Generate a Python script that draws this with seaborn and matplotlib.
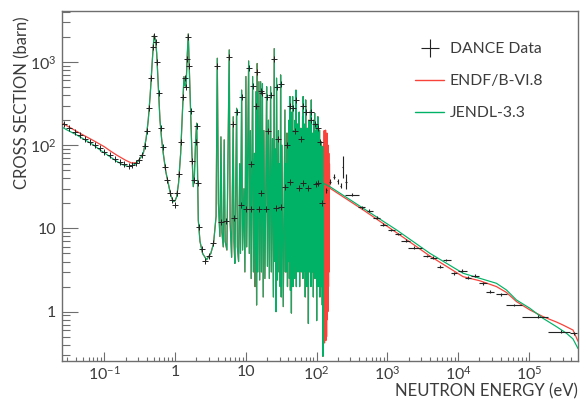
import matplotlib
matplotlib.use("Agg")
import matplotlib.pyplot as plt
from matplotlib.lines import Line2D
from matplotlib.ticker import FixedLocator, FixedFormatter, LogLocator, NullFormatter
import numpy as np
import pandas as pd
import seaborn as sns

# ---------------- data ----------------
# ENDF/B-VI.8 : thermal part
endf_low_E = [0.025, 0.03, 0.04, 0.05, 0.07, 0.1, 0.12, 0.15, 0.2, 0.244, 0.29]
endf_low_sig = [186, 170, 148, 133, 114, 96, 86, 76, 66, 61, 62]
# JENDL-3.3 : thermal part
jendl_low_E = [0.025, 0.03, 0.0407, 0.05, 0.07, 0.09, 0.12, 0.15, 0.18, 0.218, 0.25, 0.287]
jendl_low_sig = [166, 152, 133, 120, 101, 86, 73, 64, 58.5, 55.5, 56.5, 61]

# resolved resonance region (both evaluations practically overlap)
res_E = [0.33, 0.356, 0.39, 0.418, 0.445, 0.468, 0.49, 0.508, 0.53, 0.55, 0.58, 0.612,
         0.645, 0.681, 0.74, 0.80, 0.87, 0.944, 1.0, 1.053, 1.12, 1.2, 1.27, 1.336, 1.38,
         1.43, 1.48, 1.536, 1.6, 1.66, 1.73, 1.81, 1.88, 1.95, 2.02, 2.07, 2.13, 2.25,
         2.45, 2.79, 3.2, 3.5, 3.8,
         3.95, 4.1, 4.3, 4.45, 4.6, 4.8, 4.95, 5.1, 5.4, 5.83, 6.0, 6.3, 6.64, 6.8, 7.0,
         7.41, 7.6, 7.9, 8.2, 8.4, 8.73, 9.0, 9.4, 9.7, 10.03, 10.3, 10.96, 11.2, 11.6,
         11.9, 12.48, 12.8, 13.22, 13.5, 13.89, 14.2, 14.49, 14.8, 15.32, 15.7, 16.19,
         16.6, 17.15, 17.6, 18.02, 18.6, 19.2, 19.67, 20.2, 20.85, 21.5, 22.4, 22.9,
         23.8, 24.5, 25.2, 25.7, 26.2, 26.7, 27.2, 28.0, 28.9, 29.5, 30.2, 30.6, 31.0,
         31.7, 32.4, 33.8, 35.7, 36.2, 36.6, 37.2, 38.2, 38.8, 39.4, 40.0, 40.7, 41.3,
         42.0, 42.7, 43.4, 44.1, 44.8, 45.3, 45.8, 46.4, 47.0, 47.6, 48.3, 49.0, 49.7,
         50.4, 51.1, 51.8, 52.5, 53.2, 54.0, 54.6, 55.2, 56.0, 56.8, 57.6, 58.4, 59.2,
         60.0, 60.8, 61.7, 62.5, 63.4, 64.0, 64.7, 65.6, 66.6, 67.4, 68.3, 69.2, 70.1,
         70.9, 71.8, 72.8, 73.8, 74.7, 75.7, 76.6, 77.8, 78.8, 79.9, 81.0, 82.1, 83.2,
         84.3, 85.4, 86.5, 87.7, 88.9, 90.1, 91.3, 92.5, 93.8, 95.0, 96.3, 97.6, 98.9,
         100.2, 101.6, 103.0, 104.3, 105.7, 107.1, 108.5, 110.0, 111.5, 112.9, 114.4,
         116.0, 117.5, 119.0, 120.5, 122.0, 123.0]
res_sig = [72, 80, 120, 201, 400, 804, 1500, 2118, 1800, 1277, 500, 201,
           120, 80, 48, 35, 25, 21, 21.5, 24, 35, 80, 250, 668, 520,
           506, 1100, 2177, 700, 266, 80, 31.8, 45, 110, 184, 60, 12.6, 7,
           5, 4.2, 5.0, 6.6, 14,
           1110, 20, 8, 126, 9, 6, 116, 7, 5.5, 1400, 12, 4.5, 220, 7, 3.8,
           278, 6, 4, 60, 5, 460, 5.5, 30, 3, 670, 6, 1030, 5, 150,
           2.5, 670, 3, 80, 2, 440, 1.2, 960, 3, 580, 2.4, 580,
           3, 550, 1.5, 150, 2.5, 40, 505, 3.5, 200, 2.5, 505, 3,
           120, 1.5, 1450, 4, 90, 1.0, 640, 2.4, 150, 3, 60, 2.0, 700,
           1.5, 100, 1.15, 265, 3, 60, 3, 140, 2, 90, 4, 200, 2.5,
           385, 1.8, 110, 0.96, 250, 3, 385, 2, 150, 4, 90, 2.5, 200,
           3.5, 460, 2, 120, 5, 180, 3, 70, 6, 250, 2, 100, 4,
           160, 3, 80, 7, 220, 2.5, 385, 3, 120, 5, 180, 1.5, 350,
           4, 90, 2, 160, 5, 120, 0.72, 200, 3, 70, 6, 260, 2,
           350, 4, 140, 3, 110, 1.5, 200, 5, 243, 2.5, 100, 4, 150,
           0.78, 180, 3, 220, 2, 120, 5, 152, 1.5, 90, 3,
           110, 2, 80, 1.2, 96, 0.29]

# ENDF resolved region extends further than JENDL
endf_ext_E = [125, 126.5, 128, 129.5, 131, 132.5, 134, 135.5, 137, 138.5, 140, 141.5,
              143, 144.5, 146, 147.5, 149, 150.5, 152, 153]
endf_ext_sig = [100, 0.45, 150, 0.42, 120, 0.6, 152, 0.45, 110, 0.5, 140, 0.8,
                90, 1.0, 100, 2, 80, 3, 60, 33]

# smooth (unresolved) region
endf_tail_E = [154, 455, 1349, 3981, 11770, 20230, 34830, 48260, 66800, 103000, 158800,
               245400, 304000, 421000, 495000]
endf_tail_sig = [30.5, 16.7, 8.9, 4.67, 2.63, 2.35, 2.0, 1.7, 1.32, 1.05, 0.87,
                 0.75, 0.69, 0.60, 0.44]
jendl_tail_E = [124, 154, 455, 1349, 3981, 11770, 20230, 34830, 48260, 66800, 103000,
                158800, 245400, 339500, 420000, 495000]
jendl_tail_sig = [35, 31.8, 17.5, 9.6, 5.03, 2.89, 2.52, 2.19, 1.82, 1.38, 1.10,
                  0.83, 0.66, 0.55, 0.47, 0.36]

# DANCE data - resolved region (point markers)
dance_res_E = [0.027, 0.032, 0.038, 0.045, 0.053, 0.062, 0.073, 0.086, 0.10, 0.12, 0.14,
               0.165, 0.19, 0.22, 0.25, 0.28, 0.31, 0.34, 0.37, 0.40, 0.43, 0.46, 0.49,
               0.51, 0.53, 0.56, 0.59, 0.63, 0.67, 0.72, 0.78, 0.85, 0.92, 1.0, 1.08,
               1.15, 1.22, 1.30, 1.36, 1.42, 1.48, 1.53, 1.58, 1.66, 1.75, 1.85, 1.95,
               2.02, 2.10, 2.20, 2.4, 2.63, 3.0, 3.4,
               3.95, 4.5, 5.2, 5.83, 6.64, 6.8, 7.41, 8.5, 8.73, 10.0, 10.96, 11.8, 12.0,
               12.48, 13.89, 14.49, 15.3, 16.19, 16.5, 17.15, 19.4, 19.67, 20.85, 22.4,
               25.2, 27.0, 27.2, 28.9, 31.0, 31.0, 35.7, 38.2, 42.0, 42.0, 45.8, 49.7,
               51.1, 56.0, 60.0, 64.7, 64.7, 70.1, 76.0, 82.1, 84.3, 93.8, 99.0, 104.3,
               105.0, 110.0, 118.0]
dance_res_sig = [178, 160, 146, 133, 120, 110, 101, 92, 84, 76, 69,
                 63, 59, 57, 58, 61, 66, 76, 97, 150, 280, 650, 1500,
                 2050, 1750, 1000, 420, 160, 95, 55, 38, 27, 22, 19, 27,
                 45, 110, 380, 640, 500, 1100, 2000, 900, 260, 65, 38, 110,
                 170, 35, 10.5, 5.6, 4.1, 4.6, 6.7,
                 900, 12.1, 12.4, 1150, 180, 13.5, 250, 19.2, 380, 17, 850, 17, 60,
                 520, 300, 750, 17, 450, 26.5, 420, 17, 380, 150, 400,
                 1100, 17.5, 500, 120, 18.3, 550, 31.8, 100, 36.5, 300, 280, 150,
                 350, 30.5, 120, 35, 300, 250, 30.5, 200, 250, 180, 34, 160,
                 35, 110, 20]

# DANCE data - above the resolved region (bins with error bars)
dance_hi_E = [138, 154, 176, 198, 218, 233, 259, 312, 432, 553, 703, 873, 1120, 1422,
              1825, 2391, 3580, 4440, 5520, 6850, 8690, 11400, 13840, 17600, 22560,
              28000, 41000, 61800, 135000, 282000, 430000]
dance_hi_sig = [29, 36.5, 42, 37, 32.7, 55, 36.5, 25.3, 18.0, 16.4, 13.5, 11.1, 9.6, 8.59,
                7.13, 5.88, 4.67, 4.46, 3.47, 4.18, 2.89, 3.11, 2.56, 2.71, 2.19,
                1.74, 1.62, 1.20, 0.87, 0.575, 0.55]
dance_hi_Elo = [134, 150, 171, 193, 212, 228, 252, 253, 387, 508, 631, 783, 1026, 1276,
                1585, 1968, 3208, 3981, 5047, 6026, 7817, 10000, 12450, 15460, 19800,
                24600, 34100, 48300, 78700, 186600, 387000]
dance_hi_Ehi = [142, 158, 181, 203, 224, 238, 266, 398, 481, 618, 783, 975, 1276, 1585,
                2078, 3041, 3981, 4955, 6026, 7817, 9683, 13150, 15460, 19800, 25700,
                31900, 49200, 78700, 186600, 378500, 479000]
dance_hi_slo = [27, 34, 39, 34.5, 30.5, 40, 30, 24.3, 17.3, 15.8, 13.0, 10.7, 9.25, 8.3,
                6.9, 5.68, 4.5, 4.3, 3.35, 4.03, 2.79, 3.0, 2.47, 2.61, 2.11,
                1.67, 1.56, 1.16, 0.84, 0.555, 0.53]
dance_hi_shi = [31, 39, 45, 39.5, 35, 75, 45, 26.3, 18.7, 17.0, 14.0, 11.5, 9.95, 8.9,
                7.4, 6.1, 4.85, 4.62, 3.6, 4.33, 3.0, 3.22, 2.65, 2.81, 2.27,
                1.81, 1.68, 1.24, 0.90, 0.595, 0.57]

x_major = [0.1, 1, 10, 100, 1e3, 1e4, 1e5]
x_labels = [r"$\mathregular{10^{-1}}$", "1", "10", r"$\mathregular{10^{2}}$",
            r"$\mathregular{10^{3}}$", r"$\mathregular{10^{4}}$", r"$\mathregular{10^{5}}$"]
y_major = [1, 10, 100, 1000]
y_labels = ["1", "10", r"$\mathregular{10^{2}}$", r"$\mathregular{10^{3}}$"]

# ---------------- style ----------------
sns.set_theme(style="white")
plt.rcParams["font.family"] = ["Lato", "DejaVu Sans"]
plt.rcParams["mathtext.fontset"] = "custom"
plt.rcParams["mathtext.rm"] = "Lato"
plt.rcParams["mathtext.it"] = "Lato:italic"
plt.rcParams["mathtext.bf"] = "Lato:bold"

RED = "#f8433b"
GREEN = "#00b266"
BLACK = "#222222"
TXT = "#3c3c3c"
AX = "#6e6e6e"

fig = plt.figure(figsize=(5.86, 4.01), dpi=100)
ax = fig.add_axes([61.7 / 586, 1 - 361 / 401, (577.7 - 61.7) / 586, (361 - 10.7) / 401])

endf = pd.DataFrame({"E": endf_low_E + res_E + endf_ext_E + endf_tail_E,
                     "sigma": endf_low_sig + res_sig + endf_ext_sig + endf_tail_sig})
jendl = pd.DataFrame({"E": jendl_low_E + res_E + jendl_tail_E,
                      "sigma": jendl_low_sig + res_sig + jendl_tail_sig})

sns.lineplot(data=endf, x="E", y="sigma", estimator=None, sort=False,
             color=RED, lw=0.9, ax=ax)
sns.lineplot(data=jendl, x="E", y="sigma", estimator=None, sort=False,
             color=GREEN, lw=0.85, ax=ax)

sns.scatterplot(x=dance_res_E, y=dance_res_sig, marker="+", s=18, color=BLACK,
                linewidth=0.7, ax=ax, zorder=5)
E = np.array(dance_hi_E)
S = np.array(dance_hi_sig)
ax.errorbar(E, S,
            xerr=[E - np.array(dance_hi_Elo), np.array(dance_hi_Ehi) - E],
            yerr=[S - np.array(dance_hi_slo), np.array(dance_hi_shi) - S],
            fmt="none", ecolor=BLACK, elinewidth=0.8, capsize=0, zorder=5)

ax.set_xscale("log")
ax.set_yscale("log")
ax.set_xlim(0.025, 4.9e5)
ax.set_ylim(0.255, 4140)
ax.set_xlabel("")
ax.set_ylabel("")

ax.xaxis.set_major_locator(FixedLocator(x_major))
ax.xaxis.set_major_formatter(FixedFormatter(x_labels))
ax.yaxis.set_major_locator(FixedLocator(y_major))
ax.yaxis.set_major_formatter(FixedFormatter(y_labels))
ax.xaxis.set_minor_locator(LogLocator(base=10, subs=np.arange(2, 10), numticks=20))
ax.yaxis.set_minor_locator(LogLocator(base=10, subs=np.arange(2, 10), numticks=20))
ax.xaxis.set_minor_formatter(NullFormatter())
ax.yaxis.set_minor_formatter(NullFormatter())

ax.tick_params(axis="x", which="major", direction="in", length=6.5, width=0.8,
               color=AX, labelsize=11.5, labelcolor=TXT, pad=3, top=False, bottom=True)
ax.tick_params(axis="x", which="minor", direction="in", length=3.2, width=0.8,
               color=AX, top=False, bottom=True)
ax.tick_params(axis="y", which="major", direction="in", length=11.2, width=0.8,
               color=AX, labelsize=11.5, labelcolor=TXT, pad=4, right=False, left=True)
ax.tick_params(axis="y", which="minor", direction="in", length=5.6, width=0.8,
               color=AX, right=False, left=True)

for s in ax.spines.values():
    s.set_color(AX)
    s.set_linewidth(1.0)
    s.set_visible(True)

fig.text(578 / 586, 1 - 399 / 401, "NEUTRON ENERGY (eV)", fontsize=12, color=TXT,
         ha="right", va="bottom")
fig.text(22 / 586, 1 - 16 / 401, "CROSS SECTION (barn)", fontsize=12, color=TXT,
         rotation=90, ha="center", va="top")

handles = [Line2D([], [], color=BLACK, marker="+", markersize=13, linestyle="none",
                  markeredgewidth=0.8),
           Line2D([], [], color=RED, lw=1.0),
           Line2D([], [], color=GREEN, lw=1.0)]
leg = fig.legend(handles, ["DANCE Data", "ENDF/B-VI.8", "JENDL-3.3"],
                 loc="upper left", bbox_to_anchor=(415 / 586, 1 - 42 / 401),
                 frameon=False, fontsize=11.3, labelspacing=1.15, handlelength=1.85,
                 handletextpad=0.35, borderpad=0, borderaxespad=0)
for t in leg.get_texts():
    t.set_color(TXT)

fig.savefig("out.png", dpi=100)
